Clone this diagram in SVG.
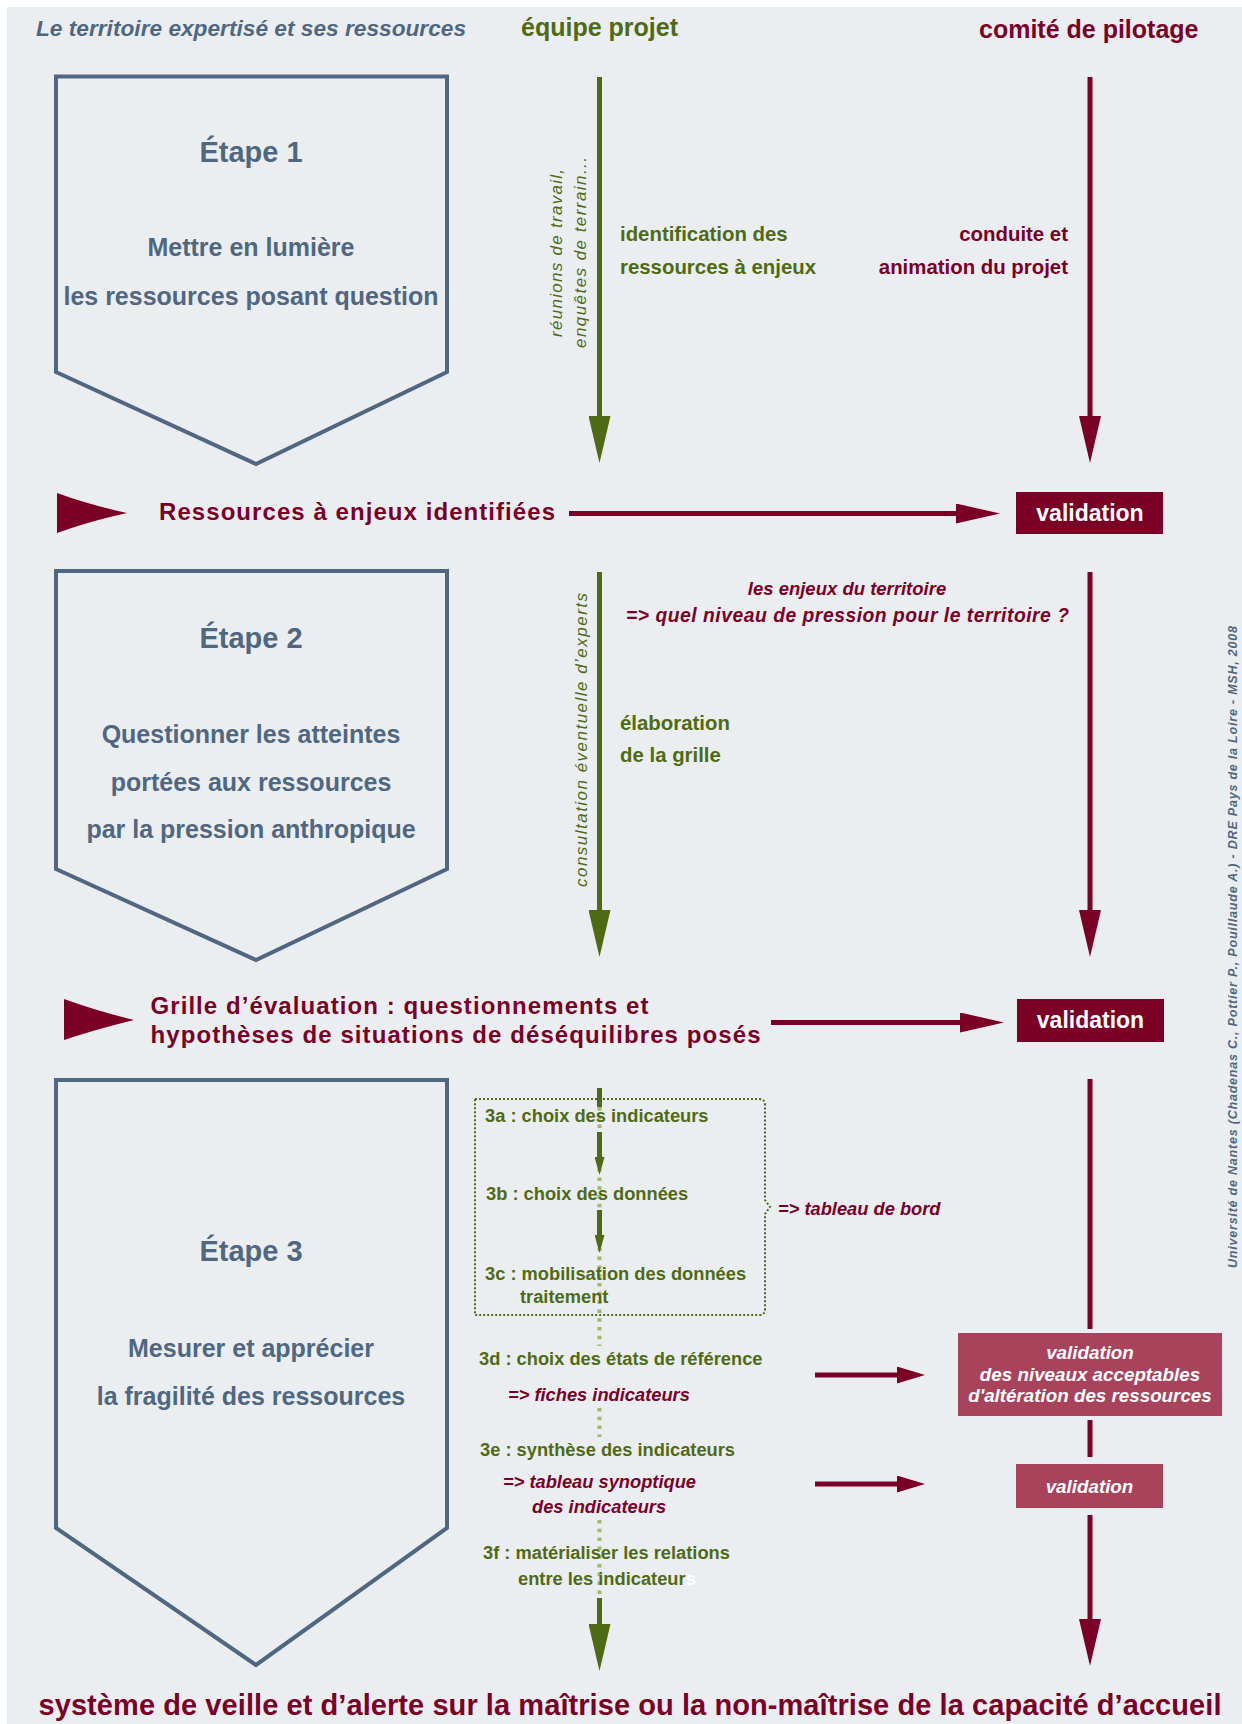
<svg xmlns="http://www.w3.org/2000/svg" width="1242" height="1724" viewBox="0 0 1242 1724">
<defs>
<style>
text{font-family:"Liberation Sans",Arial,sans-serif;}
.slate{fill:#4f6781;}
.green{fill:#4e6b14;}
.red{fill:#7b0026;}
.b{font-weight:bold;}
.i{font-style:italic;}
.c{text-anchor:middle;}
.e{text-anchor:end;}
.box{fill:none;stroke:#4f6781;stroke-width:4;stroke-linejoin:miter;}
.gl{stroke:#4e6b14;stroke-width:5;fill:none;}
.rl{stroke:#7b0026;stroke-width:5;fill:none;}
.dash{stroke:#9bb96a;stroke-width:4;stroke-dasharray:3.5 5.3;fill:none;}
.val{fill:#7b0026;}
.val2{fill:#a9435b;}
.wt{fill:#ffffff;}
</style>
<marker id="gHead" markerUnits="userSpaceOnUse" viewBox="0 0 47 22" markerWidth="47" markerHeight="22" refX="0" refY="11" orient="auto"><path d="M0,0 L47,11 L0,22 Z" fill="#4e6b14"/></marker>
<marker id="rHead" markerUnits="userSpaceOnUse" viewBox="0 0 47 22" markerWidth="47" markerHeight="22" refX="0" refY="11" orient="auto"><path d="M0,0 L47,11 L0,22 Z" fill="#7b0026"/></marker>
<marker id="gSmall" markerUnits="userSpaceOnUse" viewBox="0 0 18 10" markerWidth="18" markerHeight="10" refX="0" refY="5" orient="auto"><path d="M0,0 L18,5 L0,10 Z" fill="#4e6b14"/></marker>
<marker id="rH" markerUnits="userSpaceOnUse" viewBox="0 0 44 20" markerWidth="44" markerHeight="20" refX="0" refY="10" orient="auto"><path d="M0,0 L44,10 L0,20 Z" fill="#7b0026"/></marker>
<marker id="rHs" markerUnits="userSpaceOnUse" viewBox="0 0 28 17" markerWidth="28" markerHeight="17" refX="0" refY="8.5" orient="auto"><path d="M0,0 L28,8.5 L0,17 Z" fill="#7b0026"/></marker>
</defs>

<rect x="7" y="7" width="1235" height="1717" fill="#ebeef1"/>

<!-- headers -->
<g id="headers">
<text class="slate b i" x="36" y="36" font-size="22.7">Le territoire expertisé et ses ressources</text>
<text class="green b" x="521" y="36" font-size="25">équipe projet</text>
<text class="red b" x="979" y="37.5" font-size="25">comité de pilotage</text>
</g>

<!-- connectors -->
<g id="connectors">
<line class="gl" x1="599.5" y1="77" x2="599.5" y2="416" marker-end="url(#gHead)"/>
<line class="rl" x1="1090" y1="77" x2="1090" y2="416" marker-end="url(#rHead)"/>
<line class="rl" x1="569" y1="513.5" x2="956" y2="513.5" stroke-width="4.5" marker-end="url(#rH)"/>
<line class="gl" x1="599.5" y1="572" x2="599.5" y2="910" marker-end="url(#gHead)"/>
<line class="rl" x1="1090" y1="572" x2="1090" y2="910" marker-end="url(#rHead)"/>
<line class="rl" x1="771" y1="1022.5" x2="960" y2="1022.5" stroke-width="4.5" marker-end="url(#rH)"/>
<line class="dash" x1="599.5" y1="1107" x2="599.5" y2="1346"/>
<line class="dash" x1="599.5" y1="1408" x2="599.5" y2="1437"/>
<line class="dash" x1="599.5" y1="1520" x2="599.5" y2="1597"/>
<line class="gl" x1="599.5" y1="1088" x2="599.5" y2="1107"/>
<line class="gl" x1="599.5" y1="1132" x2="599.5" y2="1157" stroke-width="3.5" marker-end="url(#gSmall)"/>
<line class="gl" x1="599.5" y1="1210" x2="599.5" y2="1235" stroke-width="3.5" marker-end="url(#gSmall)"/>
<line class="gl" x1="599.5" y1="1598" x2="599.5" y2="1624" marker-end="url(#gHead)"/>
<line class="rl" x1="1090" y1="1079" x2="1090" y2="1329"/>
<line class="rl" x1="1090" y1="1420" x2="1090" y2="1457"/>
<line class="rl" x1="1090" y1="1515" x2="1090" y2="1619" marker-end="url(#rHead)"/>
<line class="rl" x1="815" y1="1375" x2="897" y2="1375" marker-end="url(#rHs)"/>
<line class="rl" x1="815" y1="1484" x2="897" y2="1484" marker-end="url(#rHs)"/>
<path d="M57,493 Q90,505 127,513 Q90,521 57,533 Z" fill="#7b0026"/>
<path d="M64,999 Q97,1011 134,1020 Q97,1029 64,1040 Z" fill="#7b0026"/>
<path d="M475,1099 H759 Q765,1099 765,1105 V1200 L770,1207 L765,1214 V1309 Q765,1315 759,1315 H475 Z" fill="none" stroke="#4e6b14" stroke-width="2" stroke-dasharray="2 2"/>
</g>

<!-- step 1 -->
<g id="etape1">
<path class="box" d="M56,76.5 H447 V372 L256,464 L56,372 Z"/>
<text class="slate b c" x="251" y="162" font-size="29">Étape 1</text>
<text class="slate b c" x="251" y="256" font-size="25">Mettre en lumière</text>
<text class="slate b c" x="251" y="305" font-size="25">les ressources posant question</text>
</g>

<g id="equipe1">
<text class="green i" transform="translate(562,337) rotate(-90)" font-size="17" textLength="168" lengthAdjust="spacing">réunions de travail,</text>
<text class="green i" transform="translate(586,348) rotate(-90)" font-size="17" textLength="191" lengthAdjust="spacing">enquêtes de terrain...</text>
<text class="green b" x="620" y="240.5" font-size="20.4">identification des</text>
<text class="green b" x="620" y="273.5" font-size="20.4">ressources à enjeux</text>
</g>

<g id="comite1">
<text class="red b e" x="1068" y="240.5" font-size="20.4">conduite et</text>
<text class="red b e" x="1068" y="273.5" font-size="20.4">animation du projet</text>
</g>

<g id="resultat1">
<text class="red b" x="159" y="520" font-size="24" textLength="396" lengthAdjust="spacing">Ressources à enjeux identifiées</text>
</g>

<g id="validation1">
<rect class="val" x="1016" y="492" width="147" height="42"/>
<text class="wt b c" x="1090" y="521" font-size="23">validation</text>
</g>

<!-- step 2 -->
<g id="etape2">
<path class="box" d="M56,571 H447 V869 L256,960 L56,869 Z"/>
<text class="slate b c" x="251" y="648" font-size="29">Étape 2</text>
<text class="slate b c" x="251" y="743" font-size="25">Questionner les atteintes</text>
<text class="slate b c" x="251" y="791" font-size="25">portées aux ressources</text>
<text class="slate b c" x="251" y="838" font-size="25">par la pression anthropique</text>
</g>

<g id="equipe2">
<text class="green i" transform="translate(587,887) rotate(-90)" font-size="17" textLength="294" lengthAdjust="spacing">consultation éventuelle d’experts</text>
<text class="green b" x="620" y="729.5" font-size="20.4">élaboration</text>
<text class="green b" x="620" y="761.5" font-size="20.4">de la grille</text>
</g>

<g id="enjeux">
<text class="red b i c" x="847" y="595" font-size="18.5">les enjeux du territoire</text>
<text class="red b i" x="626" y="622" font-size="19.3" textLength="443" lengthAdjust="spacing">=&gt; quel niveau de pression pour le territoire ?</text>
</g>

<g id="resultat2">
<text class="red b" x="150.5" y="1014" font-size="24" textLength="498" lengthAdjust="spacing">Grille d’évaluation : questionnements et</text>
<text class="red b" x="150.5" y="1043" font-size="24" textLength="610" lengthAdjust="spacing">hypothèses de situations de déséquilibres posés</text>
</g>

<g id="validation2">
<rect class="val" x="1017" y="999" width="147" height="43"/>
<text class="wt b c" x="1090.5" y="1028" font-size="23">validation</text>
</g>

<!-- step 3 -->
<g id="etape3">
<path class="box" d="M56,1080 H447 V1528 L256,1665 L56,1528 Z"/>
<text class="slate b c" x="251" y="1261" font-size="29">Étape 3</text>
<text class="slate b c" x="251" y="1357" font-size="25">Mesurer et apprécier</text>
<text class="slate b c" x="251" y="1405" font-size="25">la fragilité des ressources</text>
</g>

<g id="etapes3abc">
<text class="green b" x="485" y="1122" font-size="18.3">3a : choix des indicateurs</text>
<text class="green b" x="486" y="1199.5" font-size="18.3">3b : choix des données</text>
<text class="green b" x="485" y="1279.5" font-size="18.3">3c : mobilisation des données</text>
<text class="green b" x="520" y="1302.5" font-size="18.3">traitement</text>
</g>

<g id="tableauBord">
<text class="red b i" x="778" y="1215" font-size="18.3">=&gt; tableau de bord</text>
</g>

<g id="etape3d">
<text class="green b" x="479" y="1365" font-size="18.3">3d : choix des états de référence</text>
<text class="red b i" x="508" y="1401" font-size="18.3">=&gt; fiches indicateurs</text>
</g>

<g id="etape3e">
<text class="green b" x="480" y="1456" font-size="18.3">3e : synthèse des indicateurs</text>
<text class="red b i" x="503" y="1487.5" font-size="18.3">=&gt; tableau synoptique</text>
<text class="red b i" x="532" y="1512.5" font-size="18.3">des indicateurs</text>
</g>

<g id="etape3f">
<text class="green b" x="483" y="1559" font-size="18.3">3f : matérialiser les relations</text>
<text class="green b" x="518" y="1585" font-size="18.3">entre les indicateur<tspan fill="#ffffff">s</tspan></text>
</g>

<g id="validation3">
<rect class="val2" x="958" y="1333" width="264" height="83"/>
<text class="wt b i c" x="1090" y="1359" font-size="18.8">validation</text>
<text class="wt b i c" x="1090" y="1381" font-size="18.8">des niveaux acceptables</text>
<text class="wt b i c" x="1090" y="1401.5" font-size="18.8">d'altération des ressources</text>
</g>

<g id="validation4">
<rect class="val2" x="1016" y="1464" width="147" height="44"/>
<text class="wt b i c" x="1089.5" y="1492.5" font-size="18.8">validation</text>
</g>

<g id="credit">
<text class="slate b i" transform="translate(1237,1268) rotate(-90)" font-size="12.5" textLength="642" lengthAdjust="spacing">Université de Nantes (Chadenas C., Pottier P., Pouillaude A.) - DRE Pays de la Loire - MSH, 2008</text>
</g>

<g id="conclusion">
<text class="red b" x="38.5" y="1715" font-size="29" textLength="1183" lengthAdjust="spacing">système de veille et d’alerte sur la maîtrise ou la non-maîtrise de la capacité d’accueil</text>
</g>
</svg>
